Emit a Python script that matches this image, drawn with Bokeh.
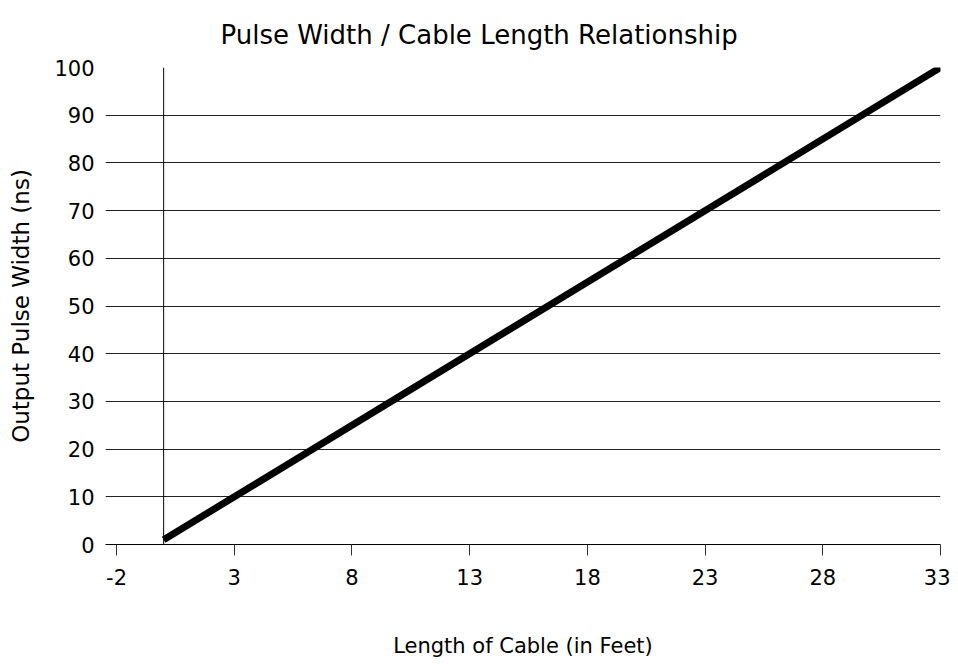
from bokeh.plotting import figure
from bokeh.models import FixedTicker, Range1d, Span
from bokeh.embed import file_html
from bokeh.resources import INLINE

# Data
cable_length_ft = [0, 33]
pulse_width_ns = [1, 100]
x_ticks = [-2, 3, 8, 13, 18, 23, 28, 33]
x_tick_labels = ["-2", "3", "8", "13", "18", "23", "28", "33"]
y_ticks = [0, 10, 20, 30, 40, 50, 60, 70, 80, 90, 100]

FONT = "DejaVu Sans"

p = figure(width=950, height=660, output_backend="svg", toolbar_location=None,
           x_range=Range1d(-2.47, 33), y_range=Range1d(0, 100),
           min_border_left=105, min_border_right=10, min_border_top=67, min_border_bottom=115,
           title="Pulse Width / Cable Length Relationship")
p.outline_line_color = None
p.background_fill_color = "white"
p.border_fill_color = "white"

p.title.align = "left"
p.title.offset = 115
p.title.text_font = FONT
p.title.text_font_size = "26px"
p.title.text_font_style = "normal"
p.title.text_color = "black"
p.title.standoff = 35

# x axis
xa = p.xaxis[0]
xa.ticker = FixedTicker(ticks=x_ticks)
xa.major_label_overrides = dict(zip(x_ticks, x_tick_labels))
xa.axis_label = "Length of Cable (in Feet)"
xa.axis_label_text_font = FONT
xa.axis_label_text_font_size = "21px"
xa.axis_label_text_font_style = "normal"
xa.axis_label_text_color = "black"
xa.axis_label_standoff = 46
xa.major_label_text_font = FONT
xa.major_label_text_font_size = "21px"
xa.major_label_text_color = "black"
xa.major_label_standoff = 13
xa.major_tick_out = 11
xa.major_tick_in = 0
xa.minor_tick_line_color = None
xa.axis_line_color = "black"
xa.major_tick_line_color = "#333333"

# y axis
ya = p.yaxis[0]
ya.ticker = FixedTicker(ticks=y_ticks)
ya.axis_label = "Output Pulse Width (ns)"
ya.axis_label_text_font = FONT
ya.axis_label_text_font_size = "23px"
ya.axis_label_text_font_style = "normal"
ya.axis_label_text_color = "black"
ya.axis_label_standoff = 17
ya.major_label_text_font = FONT
ya.major_label_text_font_size = "21px"
ya.major_label_text_color = "black"
ya.major_label_standoff = 5
ya.major_tick_line_color = None
ya.minor_tick_line_color = None
ya.axis_line_color = None

# grid
p.xgrid.grid_line_color = None
p.ygrid.ticker = FixedTicker(ticks=y_ticks)
p.ygrid.grid_line_color = "#222222"
p.ygrid.grid_line_width = 1

# vertical axis line crossing at x = 0
p.add_layout(Span(location=0, dimension="height", line_color="black", line_width=1))

p.line(cable_length_ft, pulse_width_ns, line_color="black", line_width=7)

open("out.html", "w").write(file_html(p, INLINE))
